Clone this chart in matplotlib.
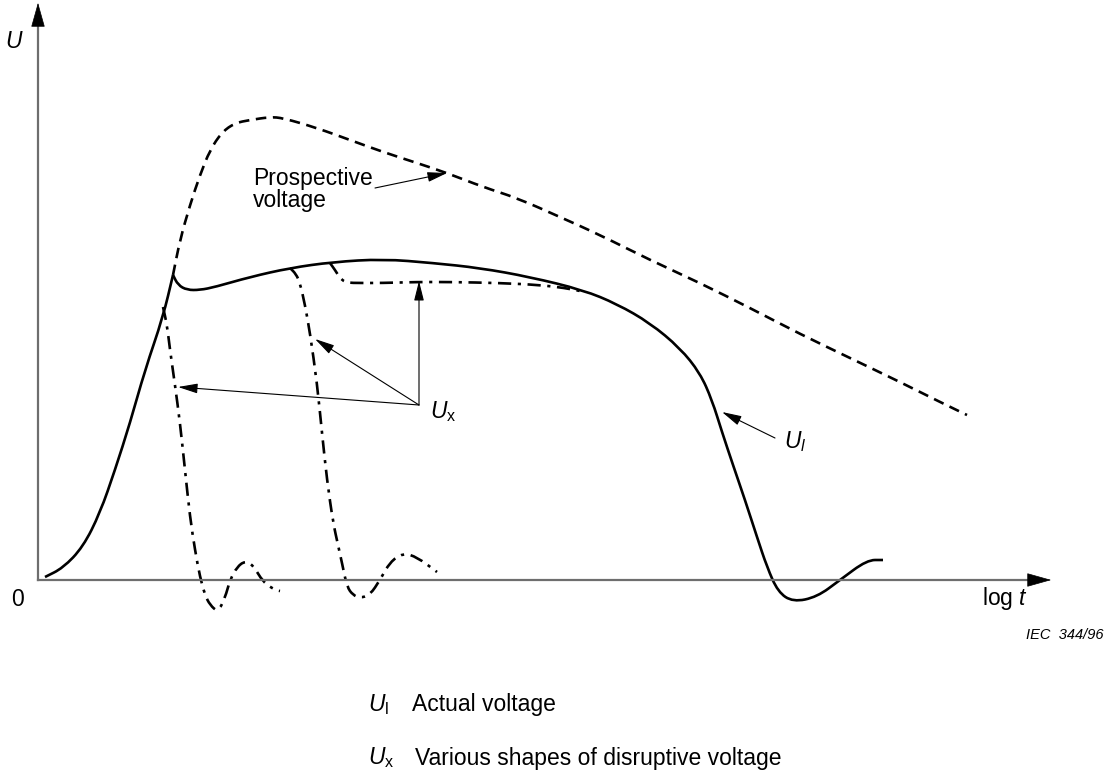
import numpy as np
import matplotlib
matplotlib.use("Agg")
from matplotlib import pyplot as plt
from matplotlib.path import Path
from matplotlib.patches import PathPatch

plt.rcParams['font.family'] = ['Liberation Sans', 'DejaVu Sans']
plt.rcParams['mathtext.fontset'] = 'custom'
plt.rcParams['mathtext.rm'] = 'Liberation Sans'
plt.rcParams['mathtext.it'] = 'Liberation Sans:italic'

# curves, in picture coordinates (x right, y down)
# actual voltage: rise up to the cusp, then the rest
rise_x = [45, 63, 83, 100, 115, 130, 145, 163, 173]
rise_y = [577, 568, 547, 513, 470, 423, 370, 317, 275]
actual_x = [173, 178, 187, 200, 215, 250, 290, 333, 383, 433, 480, 530, 583, 617, 650,
            680, 700, 712, 722, 733, 745, 757, 767, 778, 793, 817, 840, 867, 883]
actual_y = [275, 285, 290, 290, 287, 277, 268, 262, 259, 263, 268, 277, 290, 304, 323,
            348, 373, 400, 432, 465, 500, 537, 567, 592, 602, 597, 580, 560, 560]

prosp_x = [173, 180, 190, 200, 210, 222, 235, 250, 270, 283, 317, 350, 383, 417, 447, 483, 517,
           560, 600, 650, 700, 750, 800, 850, 900, 940, 967]
prosp_y = [275, 240, 205, 175, 150, 132, 123, 120, 117, 118, 128, 140, 152, 163, 173, 187, 198,
           217, 235, 260, 283, 308, 334, 358, 382, 402, 415]

ux1_x = [163, 167, 170, 175, 180, 185, 190, 195, 200, 205, 210, 218, 225, 230, 237, 245, 253, 263, 275, 280]
ux1_y = [307, 325, 350, 385, 423, 470, 517, 550, 577, 595, 605, 612, 598, 580, 567, 561, 565, 582, 590, 591]

ux2_x = [290, 296, 300, 305, 310, 317, 322, 327, 333, 338, 342, 347, 353, 360, 370, 380, 390, 403, 417, 437]
ux2_y = [268, 274, 283, 305, 333, 383, 433, 480, 522, 545, 563, 587, 595, 598, 595, 580, 562, 553, 557, 572]

ux3_x = [330, 335, 340, 345, 350, 383, 417, 450, 500, 540, 565, 580]
ux3_y = [263, 270, 278, 282, 283, 283, 282, 282, 283, 285, 288, 291]


def smooth(ax, xs, ys, **kw):
    # quadratic bezier through the midpoints, the points act as control points
    pts = np.column_stack([xs, ys]).astype(float)
    mids = (pts[:-1] + pts[1:]) / 2
    verts = [pts[0], mids[0]]
    codes = [Path.MOVETO, Path.LINETO]
    for i in range(1, len(pts) - 1):
        verts += [pts[i], mids[i]]
        codes += [Path.CURVE3, Path.CURVE3]
    verts.append(pts[-1])
    codes.append(Path.LINETO)
    ax.add_patch(PathPatch(Path(verts, codes), fill=False, edgecolor='black',
                           capstyle='butt', joinstyle='round', **kw))


fig = plt.figure(figsize=(11.13, 7.73), dpi=100)
ax = fig.add_axes([0, 0, 1, 1])
ax.set_xlim(0, 1113)
ax.set_ylim(773, 0)
ax.axis('off')

axis_col = '#6e6e6e'
ax.plot([38, 38], [580, 20], color=axis_col, lw=1.6)
ax.plot([38, 1035], [580, 580], color=axis_col, lw=1.6)
ax.annotate('', xy=(38, 0), xytext=(38, 25),
            arrowprops=dict(arrowstyle='-|>,head_length=1.6,head_width=0.45', color='black', lw=0.5))
ax.annotate('', xy=(1054, 580), xytext=(1030, 580),
            arrowprops=dict(arrowstyle='-|>,head_length=1.6,head_width=0.45', color='black', lw=0.5))

smooth(ax, rise_x, rise_y, lw=1.9)
smooth(ax, actual_x, actual_y, lw=1.9)
smooth(ax, prosp_x, prosp_y, lw=1.9, linestyle=(0, (4, 2.5)))
for xs, ys in [(ux1_x, ux1_y), (ux2_x, ux2_y), (ux3_x, ux3_y)]:
    smooth(ax, xs, ys, lw=1.9, linestyle=(0, (5, 2.5, 1.2, 2.5)))

arrow = dict(arrowstyle='-|>,head_length=1.2,head_width=0.3', color='black', lw=0.8, shrinkA=0, shrinkB=0)
for hx, hy in [(178, 387), (315, 339), (419, 281)]:
    ax.annotate('', xy=(hx, hy), xytext=(419, 405), arrowprops=arrow)
ax.annotate('', xy=(722, 412), xytext=(775, 438), arrowprops=arrow)
ax.annotate('', xy=(447, 173), xytext=(375, 188), arrowprops=arrow)

fs = 16.5
ax.text(5, 42, r'$U$', fontsize=fs, ha='left', va='center')
ax.text(18, 600, '0', fontsize=fs, ha='center', va='center')
ax.text(982, 598, r'log $t$', fontsize=fs, ha='left', va='center')
ax.text(1104, 635, 'IEC  344/96', fontsize=10.5, style='italic', ha='right', va='center')
ax.text(253, 178, 'Prospective', fontsize=fs, ha='left', va='center')
ax.text(253, 200, 'voltage', fontsize=fs, ha='left', va='center')
ax.text(430, 412, r'$U_{\mathrm{x}}$', fontsize=fs, ha='left', va='center')
ax.text(784, 442, r'$U_{l}$', fontsize=fs, ha='left', va='center')

ax.text(368, 705, r'$U_{\mathrm{l}}$', fontsize=fs, ha='left', va='center')
ax.text(412, 705, 'Actual voltage', fontsize=fs, ha='left', va='center')
ax.text(368, 758, r'$U_{\mathrm{x}}$', fontsize=fs, ha='left', va='center')
ax.text(415, 758, 'Various shapes of disruptive voltage', fontsize=fs, ha='left', va='center')

fig.savefig('out.png', dpi=100)
